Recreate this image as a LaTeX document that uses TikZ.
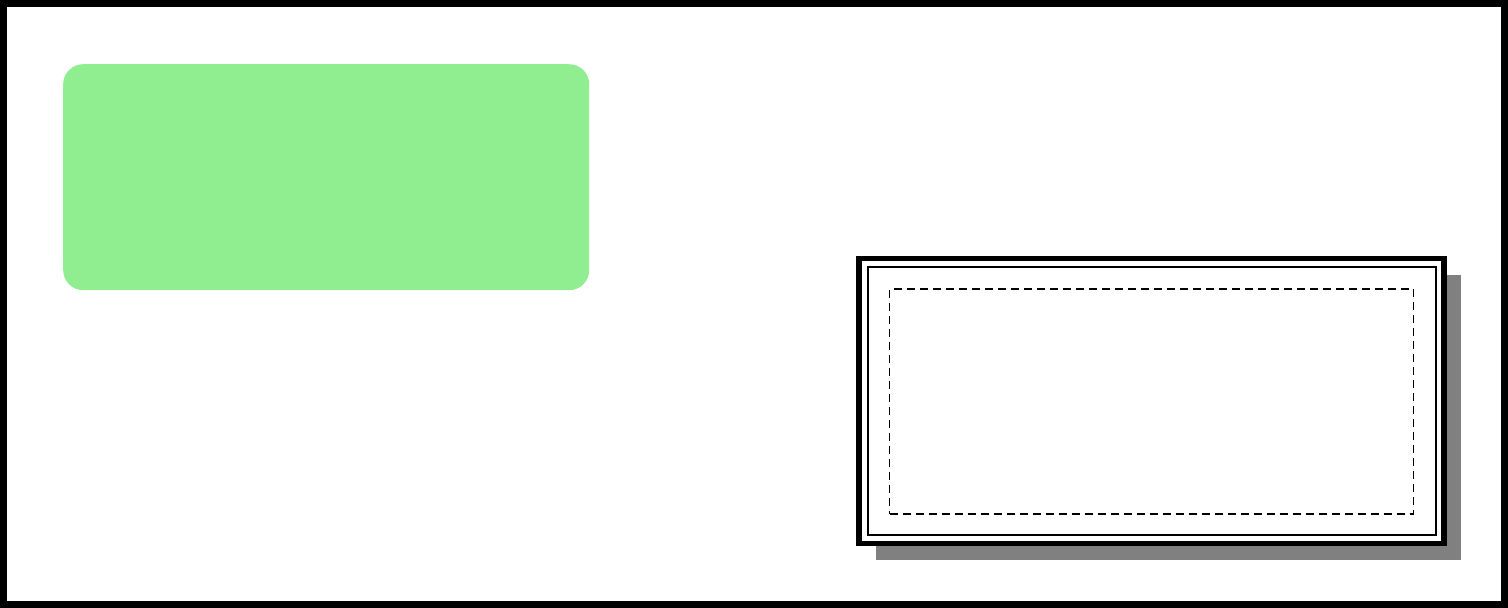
\documentclass[tikz,border=0pt]{standalone}
\usetikzlibrary{shadows}
\definecolor{lightgreen}{RGB}{144,238,144}

\begin{document}
\begin{tikzpicture}[x=1pt,y=-1pt,
    frame/.style={draw,line width=7pt},
    panel/.style={fill=lightgreen,rounded corners=20pt,anchor=north west,
      inner sep=0pt,minimum width=526pt,minimum height=226pt},
    card/.style={draw,line width=5.5pt,fill=white,anchor=north west,inner sep=0pt,
      outer sep=0pt,minimum width=585pt,minimum height=285pt,
      drop shadow={shadow xshift=16.5pt,shadow yshift=-16.5pt,fill=gray,opacity=1}},
    rim/.style={draw,line width=2pt,inner sep=0pt},
    slot/.style={draw,dash pattern=on 8pt off 5pt,line width=1.7pt,inner sep=0pt}]
  \useasboundingbox (0,0) rectangle (1508,608);
  \draw[frame] (3.5,3.5) rectangle (1504.5,604.5);
  \node[panel] (P) at (63,64) {};
  \node[card] (C) at (859,258.7) {};
  \node[rim, minimum width=568pt, minimum height=268pt] (Ci) at (C.center) {};
  \node[slot, minimum width=524pt, minimum height=225pt] (S) at (C.center) {};
\end{tikzpicture}
\end{document}
